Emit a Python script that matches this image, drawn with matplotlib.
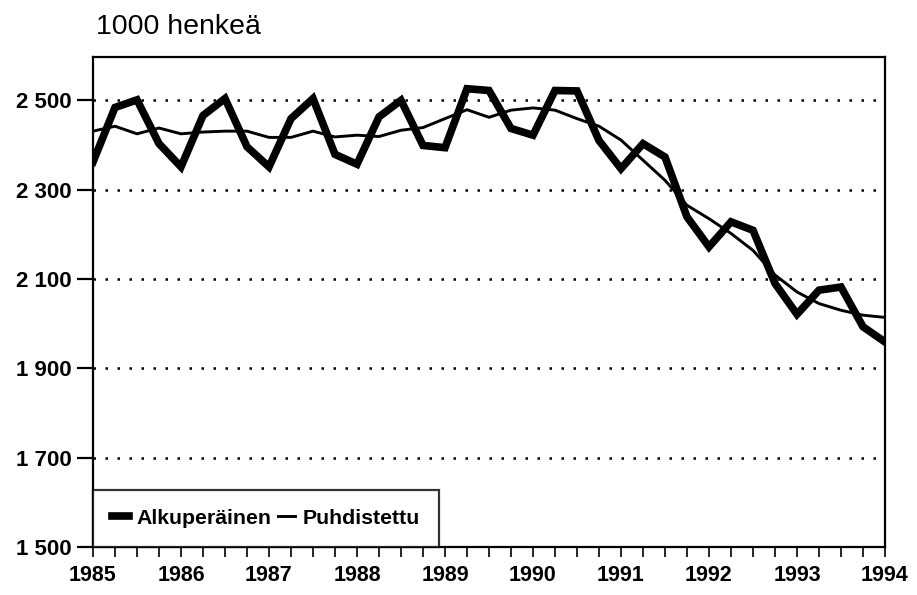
import numpy as np
import matplotlib; matplotlib.use("Agg")
import matplotlib.pyplot as plt
from matplotlib.lines import Line2D

# quarterly series 1985Q1 .. 1994Q1, 1000 persons
alkuperainen = [2362, 2484, 2501, 2403, 2351, 2466, 2504, 2396, 2351, 2459,
                2504, 2379, 2357, 2463, 2500, 2399, 2394, 2526, 2522, 2437,
                2422, 2522, 2521, 2410, 2347, 2403, 2373, 2239, 2172, 2228,
                2209, 2090, 2021, 2075, 2082, 1993, 1959]
puhdistettu = [2431, 2442, 2425, 2438, 2425, 2429, 2431, 2431, 2417, 2417,
               2431, 2418, 2422, 2419, 2433, 2439, 2459, 2479, 2462, 2478,
               2483, 2478, 2459, 2442, 2411, 2366, 2321, 2265, 2235, 2202,
               2164, 2109, 2071, 2045, 2030, 2019, 2014]
years = list(range(1985, 1995))
yticks = [1500, 1700, 1900, 2100, 2300, 2500]
ytick_labels = ["1 500", "1 700", "1 900", "2 100", "2 300", "2 500"]
grid_levels = [1700, 1900, 2100, 2300, 2500]
series_names = ["Alkuperäinen", "Puhdistettu"]

plt.rcParams["font.family"] = ["Liberation Sans", "DejaVu Sans"]

t = 1985 + np.arange(len(alkuperainen)) / 4.0

fig = plt.figure(figsize=(9.17, 5.95), dpi=100)
ax = fig.add_axes([93/917, 48/595, 792/917, 490/595])

for g in grid_levels:
    ax.axhline(g, color="black", lw=1.8, ls=(0, (1, 3.8)), zorder=1)

ax.plot(t, alkuperainen, color="black", lw=5.5, solid_joinstyle="miter", zorder=3)
ax.plot(t, puhdistettu, color="black", lw=2.1, zorder=4)

ax.set_xlim(1985, 1994)
ax.set_ylim(1500, 2597)
ax.set_yticks(yticks)
ax.set_yticklabels(ytick_labels, fontsize=16, fontweight="bold")
ax.set_xticks(t)
ax.set_xticklabels([str(int(x)) if x == int(x) else "" for x in t],
                   fontsize=15.5, fontweight="bold")
ax.tick_params(axis="y", length=11.5, width=1.6, pad=4, direction="out")
ax.tick_params(axis="x", length=7, width=1.2, pad=6, direction="out")
for s in ax.spines.values():
    s.set_linewidth(1.6)

ax.text(0.004, 1.035, "1000 henkeä", transform=ax.transAxes, fontsize=20.5,
        ha="left", va="bottom")

handles = [Line2D([], [], color="black", lw=5.5), Line2D([], [], color="black", lw=2.1)]
leg = ax.legend(handles, series_names, loc="lower left", bbox_to_anchor=(0, 0),
                borderaxespad=0, ncol=2, handlelength=0.8, handletextpad=0.35,
                columnspacing=0.3, borderpad=0.9, fancybox=False,
                prop={"size": 15.3, "weight": "bold"})
leg.get_frame().set_edgecolor("black")
leg.get_frame().set_linewidth(1.6)
leg.set_zorder(5)

fig.savefig("out.png", dpi=100)
